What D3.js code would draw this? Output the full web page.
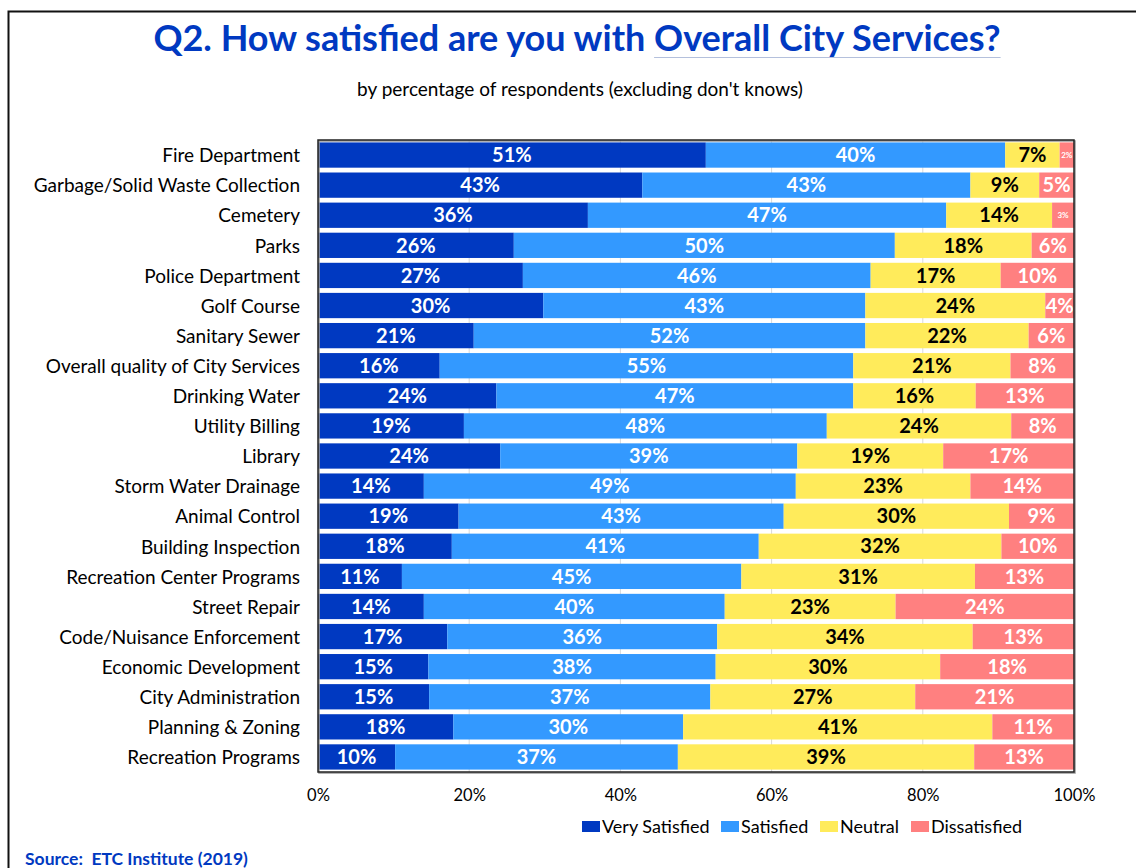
<!DOCTYPE html>
<html>
<head>
<meta charset="utf-8">
<script src="https://cdn.jsdelivr.net/npm/d3@7"></script>
<style>
  body { margin: 0; background: #fff; }
  text { font-family: Lato, "Open Sans", sans-serif; white-space: pre; }
</style>
</head>
<body>
<svg id="chart"></svg>
<script>
const WIDTH = 1136;
const HEIGHT = 868;
const MARGINS = { left: 318, top: 140, right: 62, bottom: 96 };
const graphWidth = WIDTH - MARGINS.left - MARGINS.right;
const graphHeight = HEIGHT - MARGINS.top - MARGINS.bottom;

const categories = [
  'Fire Department', 'Garbage/Solid Waste Collection', 'Cemetery', 'Parks',
  'Police Department', 'Golf Course', 'Sanitary Sewer', 'Overall quality of City Services',
  'Drinking Water', 'Utility Billing', 'Library', 'Storm Water Drainage',
  'Animal Control', 'Building Inspection', 'Recreation Center Programs', 'Street Repair',
  'Code/Nuisance Enforcement', 'Economic Development', 'City Administration',
  'Planning & Zoning', 'Recreation Programs'
];
const verySatisfied = [51.3, 42.9, 35.7, 25.9, 27.1, 29.8, 20.6, 16.1, 23.6, 19.3, 24.1, 14.0, 18.6, 17.7, 11.1, 14.0, 17.1, 14.6, 14.7, 17.9, 10.2];
const satisfied     = [39.6, 43.4, 47.4, 50.4, 46.0, 42.6, 51.8, 54.7, 47.2, 48.0, 39.3, 49.2, 43.0, 40.6, 44.9, 39.8, 35.7, 38.0, 37.2, 30.4, 37.4];
const neutral       = [7.2, 9.1, 14.0, 18.1, 17.2, 23.8, 21.6, 20.8, 16.2, 24.4, 19.3, 23.1, 29.8, 32.1, 30.9, 22.6, 33.8, 29.7, 27.1, 40.9, 39.2];
const dissatisfied  = [1.9, 4.6, 2.9, 5.6, 9.7, 3.8, 6.0, 8.4, 13.0, 8.3, 17.3, 13.7, 8.6, 9.6, 13.1, 23.6, 13.4, 17.7, 21.0, 10.8, 13.2];
const seriesNames = ['Very Satisfied', 'Satisfied', 'Neutral', 'Dissatisfied'];
const COLORS = ['#0039C1', '#3399FF', '#FFEB5B', '#FF8080'];
const LABEL_COLORS = ['#fff', '#fff', '#000', '#fff'];
const xTicks = [0, 20, 40, 60, 80, 100];

const table = categories.map((c, i) => ({
  name: c,
  'Very Satisfied': verySatisfied[i],
  'Satisfied': satisfied[i],
  'Neutral': neutral[i],
  'Dissatisfied': dissatisfied[i]
}));

const svg = d3.select('#chart').attr('width', WIDTH).attr('height', HEIGHT);

// outer frame
svg.append('path')
  .attr('d', `M8.5,${HEIGHT} V11.5 H${WIDTH}`)
  .attr('fill', 'none')
  .attr('stroke', '#111')
  .attr('stroke-width', 2);

// title
const title = svg.append('text')
  .attr('x', 577).attr('y', 51)
  .attr('text-anchor', 'middle')
  .attr('font-size', 36).attr('font-weight', 'bold')
  .attr('fill', '#0039C1');
title.append('tspan').text('Q2. How satisfied are you with ');
const underlined = title.append('tspan').text('Overall City Services?');

svg.append('text')
  .attr('x', 580).attr('y', 96)
  .attr('text-anchor', 'middle')
  .attr('font-size', 19)
  .text("by percentage of respondents (excluding don't knows)");

const graph = svg.append('g')
  .attr('transform', `translate(${MARGINS.left}, ${MARGINS.top})`);

const x = d3.scaleLinear().domain([0, 100]).range([0, graphWidth]);
const y = d3.scaleBand()
  .domain(categories)
  .range([0, graphHeight])
  .paddingInner(0.16)
  .paddingOuter(0.08);

// gridlines
graph.append('g')
  .selectAll('line')
  .data(xTicks.slice(1, -1))
  .enter()
  .append('line')
  .attr('x1', (d) => x(d)).attr('x2', (d) => x(d))
  .attr('y1', 0).attr('y2', graphHeight)
  .attr('stroke', '#d9d9d9');

const stacked = d3.stack().keys(seriesNames)(table);

const layers = graph.selectAll('g.layer')
  .data(stacked)
  .enter()
  .append('g')
  .attr('class', 'layer')
  .attr('fill', (d, i) => COLORS[i]);

layers.selectAll('rect')
  .data((d) => d)
  .enter()
  .append('rect')
  .attr('x', (d) => x(d[0]))
  .attr('width', (d) => x(d[1]) - x(d[0]))
  .attr('y', (d) => y(d.data.name))
  .attr('height', y.bandwidth());

layers.each(function (layer, li) {
  d3.select(this).selectAll('text')
    .data(layer)
    .enter()
    .append('text')
    .attr('x', (d) => (x(d[0]) + x(d[1])) / 2)
    .attr('y', (d) => y(d.data.name) + y.bandwidth() / 2)
    .attr('dy', '0.36em')
    .attr('text-anchor', 'middle')
    .attr('font-weight', 'bold')
    .attr('font-size', (d) => (d[1] - d[0] < 3 ? 8 : 20))
    .attr('fill', LABEL_COLORS[li])
    .text((d) => Math.round(d[1] - d[0]) + '%');
});

// plot border
graph.append('rect')
  .attr('x', 1).attr('y', 1)
  .attr('width', graphWidth).attr('height', graphHeight)
  .attr('fill', 'none')
  .attr('stroke', '#999')
  .attr('stroke-width', 1.5);
graph.append('rect')
  .attr('width', graphWidth).attr('height', graphHeight)
  .attr('fill', 'none')
  .attr('stroke', '#222')
  .attr('stroke-width', 1.5);

// category labels
const yAxis = d3.axisLeft(y).tickSize(0).tickPadding(18);
graph.append('g')
  .call(yAxis)
  .call((g) => g.select('.domain').remove())
  .selectAll('text')
  .attr('font-size', 19)
  .attr('font-family', 'Lato, sans-serif')
  .attr('fill', '#000')
  .attr('dy', '0.38em');

// x axis
const xAxis = d3.axisBottom(x).tickValues(xTicks).tickSize(0).tickPadding(17)
  .tickFormat((d) => d + '%');
graph.append('g')
  .attr('transform', `translate(0, ${graphHeight})`)
  .call(xAxis)
  .call((g) => g.select('.domain').remove())
  .selectAll('text')
  .attr('font-size', 16.5)
  .attr('font-family', 'Lato, sans-serif')
  .attr('fill', '#000');

// legend
const legendX = [582, 721, 820, 911];
const legend = svg.append('g').attr('transform', 'translate(0, 821)');
const items = legend.selectAll('g')
  .data(seriesNames)
  .enter()
  .append('g')
  .attr('transform', (d, i) => `translate(${legendX[i]}, 0)`);
items.append('rect')
  .attr('width', 18).attr('height', 11)
  .attr('fill', (d, i) => COLORS[i]);
items.append('text')
  .attr('x', 20).attr('y', 12)
  .attr('font-size', 18)
  .text((d) => d);

svg.append('text')
  .attr('x', 25).attr('y', 865)
  .attr('font-size', 17.5).attr('font-weight', 'bold')
  .attr('fill', '#0039C1')
  .text('Source:  ETC Institute (2019)');

// underline under the highlighted part of the title
const titleBox = title.node().getBBox();
const ulWidth = underlined.node().getComputedTextLength();
svg.append('line')
  .attr('x1', titleBox.x + titleBox.width - ulWidth)
  .attr('x2', titleBox.x + titleBox.width)
  .attr('y1', 57.5).attr('y2', 57.5)
  .attr('stroke', '#b4c0dc')
  .attr('stroke-width', 1);
</script>
</body>
</html>
